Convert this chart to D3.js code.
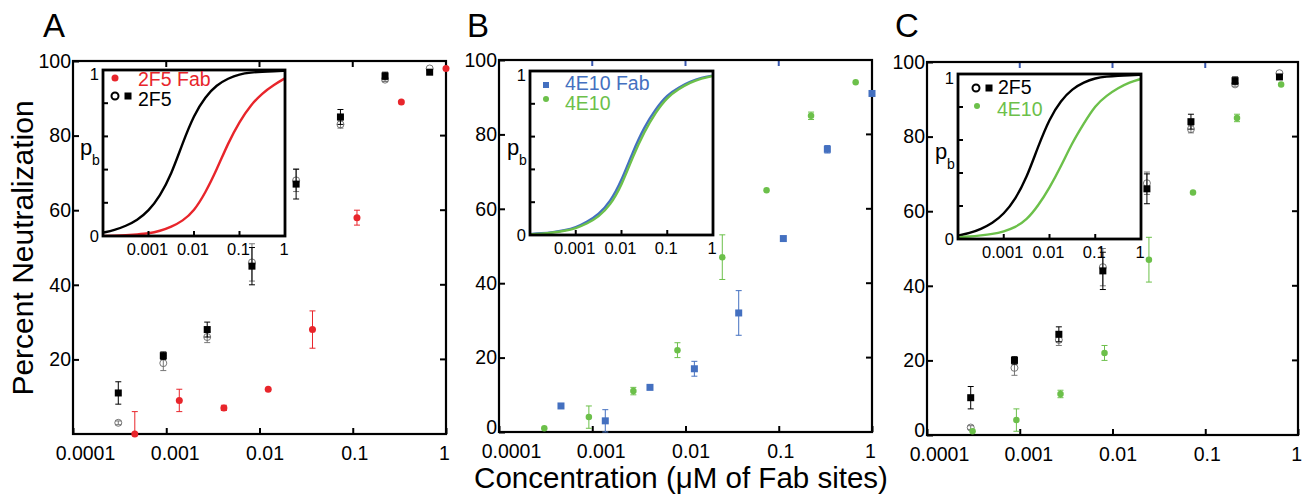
<!DOCTYPE html>
<html>
<head>
<meta charset="utf-8">
<script src="https://cdn.jsdelivr.net/npm/d3@7"></script>
<style>
  html, body { margin: 0; padding: 0; background: #fff; }
  svg { display: block; font-family: "Liberation Sans", Arial, Helvetica, sans-serif; }
</style>
</head>
<body>
<svg id="chart" width="1302" height="495"></svg>
<script>
// ---------------- DATA ----------------
const xTickValues = [0.0001, 0.001, 0.01, 0.1, 1];
const xTickLabels = ["0.0001", "0.001", "0.01", "0.1", "1"];
const yTickValuesA = [20, 40, 60, 80, 100];
const yTickValuesBC = [0, 20, 40, 60, 80, 100];
const insetXTickValues = [0.001, 0.01, 0.1, 1];
const insetXTickLabels = ["0.001", "0.01", "0.1", "1"];

// Panel A
const conc2F5A = [3.06e-4, 9.3e-4, 2.75e-3, 8.3e-3, 0.0247, 0.0738, 0.222, 0.668];
const pct2F5A_sq = [11, 21, 28, 45, 67, 85, 96, 97];
const err2F5A_sq = [3, 1, 2, 5, 4, 2, 1, 0];
const pct2F5A_circ = [3, 19, 26, 46, 68, 83, 95, 98];
const err2F5A_circ = [0.5, 2, 1.5, 5, 3, 1, 0.5, 0];
const conc2F5Fab = [4.6e-4, 1.38e-3, 4.15e-3, 0.0124, 0.037, 0.111, 0.332, 1.0];
const pct2F5Fab = [0, 9, 7, 12, 28, 58, 89, 98];
const err2F5Fab = [6, 3, 0.7, 0, 5, 2, 0, 0];

// Panel B
const conc4E10Fab = [4.62e-4, 1.38e-3, 4.16e-3, 0.01245, 0.0372, 0.112, 0.332, 1.0];
const pct4E10Fab = [7, 3, 12, 17, 32, 52, 76, 91];
const err4E10Fab = [0, 3, 0.5, 2, 6, 0, 1, 0];
const conc4E10 = [3.06e-4, 9.2e-4, 2.76e-3, 8.2e-3, 0.0248, 0.074, 0.222, 0.668];
const pct4E10 = [1, 4, 11, 22, 47, 65, 85, 94];
const err4E10 = [0, 3, 1, 2, 6, 0, 1, 0];

// Panel C
const conc2F5C = [2.96e-4, 8.77e-4, 2.64e-3, 7.87e-3, 0.0235, 0.0701, 0.2096, 0.631];
const pct2F5C_sq = [10, 20, 27, 44, 66, 84, 95, 96];
const err2F5C_sq = [3, 1, 2, 5, 4, 2, 1, 0];
const pct2F5C_circ = [2, 18, 25.5, 45, 67.5, 82, 94, 97];
const err2F5C_circ = [0.5, 2, 1.5, 5, 3, 1, 0.5, 0];
const conc4E10C = [3.1e-4, 9.2e-4, 2.75e-3, 8.2e-3, 0.0247, 0.0738, 0.22, 0.658];
const pct4E10C = [1, 4, 11, 22, 47, 65, 85, 94];
const err4E10C = [0, 3, 1, 2, 6, 0, 1, 0];

// Inset curves (p_b at quarter-decade concentrations)
const curveConc = [1e-4, 1.78e-4, 3.16e-4, 5.62e-4, 1e-3, 1.78e-3, 3.16e-3, 5.62e-3, 0.01,
                   0.0178, 0.0316, 0.0562, 0.1, 0.178, 0.316, 0.562, 1];
const pb2F5 = [0.02, 0.035, 0.06, 0.095, 0.15, 0.24, 0.37, 0.56, 0.73, 0.84, 0.91, 0.95, 0.975, 0.985, 0.99, 0.993, 0.995];
const pb2F5Fab = [0.0, 0.002, 0.005, 0.01, 0.015, 0.03, 0.055, 0.09, 0.15, 0.26, 0.40, 0.56, 0.69, 0.79, 0.86, 0.91, 0.95];
const pb4E10Fab = [0.005, 0.01, 0.017, 0.028, 0.045, 0.08, 0.125, 0.20, 0.33, 0.51, 0.66, 0.77, 0.855, 0.90, 0.935, 0.96, 0.972];
const pb4E10 = [0.004, 0.008, 0.015, 0.025, 0.04, 0.07, 0.11, 0.18, 0.30, 0.48, 0.63, 0.75, 0.84, 0.89, 0.93, 0.955, 0.97];
const pb4E10C = [0.01, 0.015, 0.022, 0.03, 0.045, 0.07, 0.115, 0.20, 0.31, 0.44, 0.585, 0.70, 0.81, 0.87, 0.915, 0.95, 0.97];

// ---------------- STYLE ----------------
const RED = "#e8252b", GREEN = "#6cc04a", BLUE = "#4470c0", TOPBLUE = "#3a58b0";

const svg = d3.select("#chart");

function zip(xs, ys, es) { return xs.map((x, i) => ({ x, y: ys[i], e: es ? es[i] : 0 })); }

function drawPanel(cfg) {
  const g = svg.append("g");
  const x = d3.scaleLog().domain([1e-4, 1]).range([cfg.left, cfg.right]);
  const y = d3.scaleLinear().domain([0, 100]).range([cfg.bottom, cfg.top]);

  // panel letter
  g.append("text").attr("x", cfg.letterX).attr("y", 37).attr("font-size", 33).text(cfg.letter);

  // left axis
  const la = g.append("g").attr("transform", `translate(${cfg.left},0)`)
    .call(d3.axisLeft(y).tickValues(cfg.yTicks).tickSize(-6).tickPadding(2).tickFormat(d3.format("d")));
  la.select(".domain").remove();
  la.selectAll("line").attr("stroke", "#000").attr("stroke-width", 2);
  la.selectAll("text").attr("font-size", 19.5).attr("fill", "#000").attr("font-family", null)
    .attr("dy", d => d === 0 ? "0.1em" : "0.32em");

  // right ticks
  g.append("g").selectAll("line").data([20, 40, 60, 80]).join("line")
    .attr("x1", cfg.right).attr("x2", cfg.right - 6)
    .attr("y1", d => y(d)).attr("y2", d => y(d)).attr("stroke", "#000").attr("stroke-width", 2);

  // bottom axis
  const ba = g.append("g").attr("transform", `translate(0,${cfg.bottom})`)
    .call(d3.axisBottom(x).tickValues(xTickValues).tickSize(-6).tickPadding(12)
      .tickFormat((d, i) => xTickLabels[i]));
  ba.select(".domain").remove();
  ba.selectAll("line").attr("stroke", "#000").attr("stroke-width", 2);
  ba.selectAll("text").attr("font-size", 19.5).attr("fill", "#000").attr("font-family", null)
    .attr("x", d => 12 - 0.0375 * (x(d) - cfg.left));

  // top ticks
  g.append("g").selectAll("line").data([0.001, 0.01, 0.1]).join("line")
    .attr("x1", d => x(d)).attr("x2", d => x(d))
    .attr("y1", cfg.top).attr("y2", cfg.top + 6).attr("stroke", cfg.topTickColor).attr("stroke-width", 2);

  // frame
  g.append("rect").attr("x", cfg.left).attr("y", cfg.top)
    .attr("width", cfg.right - cfg.left).attr("height", cfg.bottom - cfg.top)
    .attr("fill", "none").attr("stroke", "#000").attr("stroke-width", 2.2);

  const dl = g.append("g");

  cfg.series.forEach(s => {
    const pts = zip(s.x, s.y, s.e);
    const sg = dl.append("g");
    // error bars (lower end stops at the axis)
    pts.filter(p => p.e > 0).forEach(p => {
      const cx = x(p.x);
      const lowClamped = p.y - p.e < 0;
      const y1 = y(Math.max(p.y - p.e, 0)), y2 = y(p.y + p.e);
      sg.append("line").attr("x1", cx).attr("x2", cx).attr("y1", y1).attr("y2", y2)
        .attr("stroke", s.errColor).attr("stroke-width", 1);
      const caps = lowClamped ? [y2] : [y1, y2];
      caps.forEach(yy => sg.append("line").attr("x1", cx - 3).attr("x2", cx + 3)
        .attr("y1", yy).attr("y2", yy).attr("stroke", s.errColor).attr("stroke-width", 1));
    });
    if (s.shape === "square") {
      sg.selectAll("rect").data(pts).join("rect")
        .attr("x", p => x(p.x) - s.size / 2).attr("y", p => y(p.y) - s.size / 2)
        .attr("width", s.size).attr("height", s.size).attr("fill", s.color);
    } else if (s.shape === "open") {
      sg.selectAll("circle").data(pts).join("circle")
        .attr("cx", p => x(p.x)).attr("cy", p => y(p.y)).attr("r", s.size / 2)
        .attr("fill", "none").attr("stroke", s.color).attr("stroke-width", 0.9);
    } else {
      sg.selectAll("circle").data(pts).join("circle")
        .attr("cx", p => x(p.x)).attr("cy", p => y(p.y)).attr("r", s.size / 2).attr("fill", s.color);
    }
  });

  // inset
  const ic = cfg.inset;
  const ix = d3.scaleLog().domain([1e-4, 1]).range([ic.left, ic.right]);
  const iy = d3.scaleLinear().domain([0, 1]).range([ic.bottom, ic.top]);
  const ig = g.append("g");
  ig.append("rect").attr("x", ic.left).attr("y", ic.top).attr("width", ic.right - ic.left)
    .attr("height", ic.bottom - ic.top).attr("fill", "#fff");

  const iclip = "iclip" + cfg.letter;
  svg.append("clipPath").attr("id", iclip).append("rect")
    .attr("x", ic.left).attr("y", ic.top - 2).attr("width", ic.right - ic.left).attr("height", ic.bottom - ic.top + 2);
  const line = d3.line().x(d => ix(d.x)).y(d => iy(d.y)).curve(d3.curveBasis);
  ic.curves.forEach(c => {
    ig.append("path").attr("clip-path", `url(#${iclip})`)
      .attr("d", line(zip(curveConc, c.values)))
      .attr("fill", "none").attr("stroke", c.color).attr("stroke-width", 2.4);
  });

  // inset ticks
  ig.append("g").selectAll("line").data([0.2, 0.4, 0.6, 0.8]).join("line")
    .attr("x1", ic.left).attr("x2", ic.left + 5).attr("y1", d => iy(d)).attr("y2", d => iy(d))
    .attr("stroke", "#000").attr("stroke-width", 2);
  ig.append("g").selectAll("line").data([0.001, 0.01, 0.1]).join("line")
    .attr("x1", d => ix(d)).attr("x2", d => ix(d)).attr("y1", ic.bottom).attr("y2", ic.bottom - 5)
    .attr("stroke", "#000").attr("stroke-width", 2);
  ig.append("rect").attr("x", ic.left).attr("y", ic.top).attr("width", ic.right - ic.left)
    .attr("height", ic.bottom - ic.top).attr("fill", "none").attr("stroke", "#000").attr("stroke-width", 2.8);

  // inset labels
  ig.append("g").selectAll("text").data(insetXTickValues).join("text")
    .attr("x", d => ix(d) - 1).attr("y", ic.bottom + 19).attr("text-anchor", "middle")
    .attr("font-size", 16.5).text((d, i) => insetXTickLabels[i]);
  ig.append("text").attr("x", ic.left - 4).attr("y", ic.top + 4).attr("dy", "0.35em")
    .attr("text-anchor", "end").attr("font-size", 16.5).text("1");
  ig.append("text").attr("x", ic.left - 4).attr("y", ic.bottom).attr("dy", "0.35em")
    .attr("text-anchor", "end").attr("font-size", 16.5).text("0");
  const mid = (ic.top + ic.bottom) / 2;
  ig.append("text").attr("x", ic.left - 23).attr("y", mid + 2).attr("font-size", 22).text("p");
  ig.append("text").attr("x", ic.left - 11).attr("y", mid + 12).attr("font-size", 14).text("b");

  // legend
  cfg.legend.forEach(L => {
    L.marks.forEach(m => {
      if (m.shape === "square") {
        ig.append("rect").attr("x", m.x - m.size / 2).attr("y", L.my - m.size / 2)
          .attr("width", m.size).attr("height", m.size).attr("fill", m.color);
      } else if (m.shape === "open") {
        ig.append("circle").attr("cx", m.x).attr("cy", L.my).attr("r", m.size / 2)
          .attr("fill", "none").attr("stroke", m.color).attr("stroke-width", 2);
      } else {
        ig.append("circle").attr("cx", m.x).attr("cy", L.my).attr("r", m.size / 2).attr("fill", m.color);
      }
    });
    ig.append("text").attr("x", L.tx).attr("y", L.ty).attr("font-size", 19.5)
      .attr("fill", L.color).text(L.text);
  });
}

// Panel A
drawPanel({
  letter: "A", letterX: 43, left: 73, right: 446, top: 61, bottom: 434,
  yTicks: yTickValuesA, topTickColor: "#000",
  series: [
    { x: conc2F5A, y: pct2F5A_circ, e: err2F5A_circ, shape: "open", color: "#666", errColor: "#777", size: 7 },
    { x: conc2F5A, y: pct2F5A_sq, e: err2F5A_sq, shape: "square", color: "#000", errColor: "#000", size: 7 },
    { x: conc2F5Fab, y: pct2F5Fab, e: err2F5Fab, shape: "dot", color: RED, errColor: RED, size: 7 }
  ],
  inset: { left: 103, right: 285, top: 70, bottom: 236,
    curves: [{ values: pb2F5, color: "#000" }, { values: pb2F5Fab, color: RED }] },
  legend: [
    { text: "2F5 Fab", color: RED, tx: 138, ty: 86, my: 78, marks: [{ shape: "dot", x: 115, size: 7, color: RED }] },
    { text: "2F5", color: "#000", tx: 138, ty: 106, my: 96,
      marks: [{ shape: "open", x: 115, size: 7, color: "#000" }, { shape: "square", x: 128, size: 7, color: "#000" }] }
  ]
});

// Panel B
drawPanel({
  letter: "B", letterX: 467, left: 499, right: 872, top: 60, bottom: 432,
  yTicks: yTickValuesBC, topTickColor: TOPBLUE,
  series: [
    { x: conc4E10, y: pct4E10, e: err4E10, shape: "dot", color: GREEN, errColor: GREEN, size: 6.5 },
    { x: conc4E10Fab, y: pct4E10Fab, e: err4E10Fab, shape: "square", color: BLUE, errColor: BLUE, size: 7 }
  ],
  inset: { left: 530, right: 713, top: 71, bottom: 235,
    curves: [{ values: pb4E10Fab, color: BLUE }, { values: pb4E10, color: GREEN }] },
  legend: [
    { text: "4E10 Fab", color: BLUE, tx: 565, ty: 90, my: 85, marks: [{ shape: "square", x: 546, size: 6, color: BLUE }] },
    { text: "4E10", color: GREEN, tx: 565, ty: 110, my: 99, marks: [{ shape: "dot", x: 546, size: 6, color: GREEN }] }
  ]
});

// Panel C
drawPanel({
  letter: "C", letterX: 895, left: 927, right: 1298, top: 62, bottom: 435,
  yTicks: yTickValuesBC, topTickColor: TOPBLUE,
  series: [
    { x: conc2F5C, y: pct2F5C_circ, e: err2F5C_circ, shape: "open", color: "#666", errColor: "#777", size: 7 },
    { x: conc2F5C, y: pct2F5C_sq, e: err2F5C_sq, shape: "square", color: "#000", errColor: "#000", size: 7 },
    { x: conc4E10C, y: pct4E10C, e: err4E10C, shape: "dot", color: GREEN, errColor: GREEN, size: 6.5 }
  ],
  inset: { left: 958, right: 1141, top: 74, bottom: 239,
    curves: [{ values: pb2F5, color: "#000" }, { values: pb4E10C, color: GREEN }] },
  legend: [
    { text: "2F5", color: "#000", tx: 998, ty: 94, my: 88,
      marks: [{ shape: "open", x: 976, size: 7, color: "#000" }, { shape: "square", x: 989, size: 7, color: "#000" }] },
    { text: "4E10", color: GREEN, tx: 997, ty: 116, my: 106, marks: [{ shape: "dot", x: 977, size: 6, color: GREEN }] }
  ]
});

// axis titles
svg.append("text").attr("transform", "translate(33,248) rotate(-90)").attr("text-anchor", "middle")
  .attr("font-size", 30).text("Percent Neutralization");
svg.append("text").attr("x", 681).attr("y", 488).attr("text-anchor", "middle")
  .attr("font-size", 29.5).text("Concentration (\u03BCM of Fab sites)");
</script>
</body>
</html>
